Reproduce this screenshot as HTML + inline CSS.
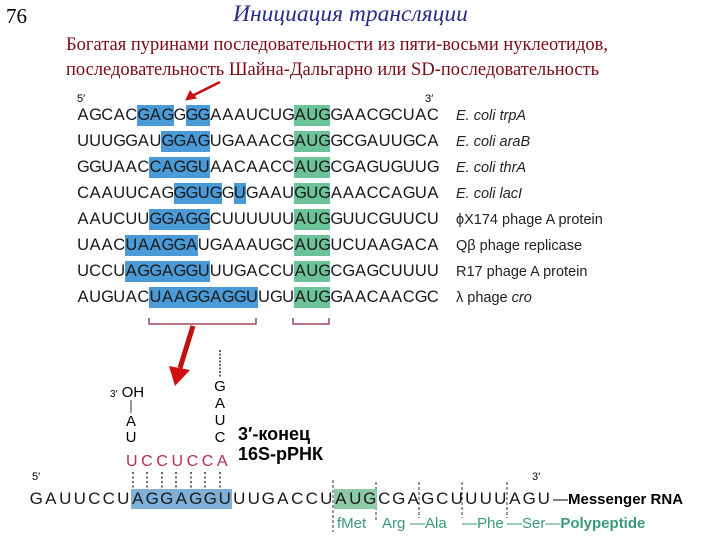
<!DOCTYPE html>
<html><head><meta charset="utf-8"><style>
body{margin:0;width:720px;height:540px;background:#fff;position:relative;overflow:hidden;font-family:"Liberation Sans",sans-serif}
.a{position:absolute;white-space:nowrap}
.r{position:absolute;left:77px;width:362px;height:21px;display:flex;font-size:16.5px;color:#1a1a1a;line-height:21px}
.r i{flex:1 1 0;min-width:0;text-align:center;font-style:normal;overflow:visible}
.b{background:#4a9ad8}
.g{background:#6cc39a}
.lb{position:absolute;left:456px;font-size:14.5px;color:#222}
.m{position:absolute;left:29px;top:489px;height:20px;display:flex;font-size:17px;line-height:20px;color:#1a1a1a}
.m i{width:14.5px;text-align:center;font-style:normal}
.mb{background:#7fb0d8}
.mg{background:#8fcaa8}
.p{position:absolute;top:515px;font-size:15px;color:#3a9a78}
</style></head><body>
<div class="a" style="left:6px;top:4px;font:21px 'Liberation Serif',serif">76</div>
<div class="a" style="left:233px;top:1px;font:italic 23.5px 'Liberation Serif',serif;color:#2b2b8c">Инициация трансляции</div>
<div class="a" style="left:66px;top:33px;font:18.5px 'Liberation Serif',serif;color:#7a0a14;line-height:25px">Богатая пуринами последовательности из пяти-восьми нуклеотидов,<br>последовательность Шайна-Дальгарно или SD-последовательность</div>

<div class="a" style="left:77px;top:93px;font-size:11px">5′</div>
<div class="a" style="left:425px;top:93px;font-size:11px">3′</div>

<div class="r" style="top:105px"><i>A</i><i>G</i><i>C</i><i>A</i><i>C</i><i class="b">G</i><i class="b">A</i><i class="b">G</i><i>G</i><i class="b">G</i><i class="b">G</i><i>A</i><i>A</i><i>A</i><i>U</i><i>C</i><i>U</i><i>G</i><i class="g">A</i><i class="g">U</i><i class="g">G</i><i>G</i><i>A</i><i>A</i><i>C</i><i>G</i><i>C</i><i>U</i><i>A</i><i>C</i></div>
<div class="r" style="top:131px"><i>U</i><i>U</i><i>U</i><i>G</i><i>G</i><i>A</i><i>U</i><i class="b">G</i><i class="b">G</i><i class="b">A</i><i class="b">G</i><i>U</i><i>G</i><i>A</i><i>A</i><i>A</i><i>C</i><i>G</i><i class="g">A</i><i class="g">U</i><i class="g">G</i><i>G</i><i>C</i><i>G</i><i>A</i><i>U</i><i>U</i><i>G</i><i>C</i><i>A</i></div>
<div class="r" style="top:157px"><i>G</i><i>G</i><i>U</i><i>A</i><i>A</i><i>C</i><i class="b">C</i><i class="b">A</i><i class="b">G</i><i class="b">G</i><i class="b">U</i><i>A</i><i>A</i><i>C</i><i>A</i><i>A</i><i>C</i><i>C</i><i class="g">A</i><i class="g">U</i><i class="g">G</i><i>C</i><i>G</i><i>A</i><i>G</i><i>U</i><i>G</i><i>U</i><i>U</i><i>G</i></div>
<div class="r" style="top:183px"><i>C</i><i>A</i><i>A</i><i>U</i><i>U</i><i>C</i><i>A</i><i>G</i><i class="b">G</i><i class="b">G</i><i class="b">U</i><i class="b">G</i><i>G</i><i class="b">U</i><i>G</i><i>A</i><i>A</i><i>U</i><i class="g">G</i><i class="g">U</i><i class="g">G</i><i>A</i><i>A</i><i>A</i><i>C</i><i>C</i><i>A</i><i>G</i><i>U</i><i>A</i></div>
<div class="r" style="top:209px"><i>A</i><i>A</i><i>U</i><i>C</i><i>U</i><i>U</i><i class="b">G</i><i class="b">G</i><i class="b">A</i><i class="b">G</i><i class="b">G</i><i>C</i><i>U</i><i>U</i><i>U</i><i>U</i><i>U</i><i>U</i><i class="g">A</i><i class="g">U</i><i class="g">G</i><i>G</i><i>U</i><i>U</i><i>C</i><i>G</i><i>U</i><i>U</i><i>C</i><i>U</i></div>
<div class="r" style="top:235px"><i>U</i><i>A</i><i>A</i><i>C</i><i class="b">U</i><i class="b">A</i><i class="b">A</i><i class="b">G</i><i class="b">G</i><i class="b">A</i><i>U</i><i>G</i><i>A</i><i>A</i><i>A</i><i>U</i><i>G</i><i>C</i><i class="g">A</i><i class="g">U</i><i class="g">G</i><i>U</i><i>C</i><i>U</i><i>A</i><i>A</i><i>G</i><i>A</i><i>C</i><i>A</i></div>
<div class="r" style="top:261px"><i>U</i><i>C</i><i>C</i><i>U</i><i class="b">A</i><i class="b">G</i><i class="b">G</i><i class="b">A</i><i class="b">G</i><i class="b">G</i><i class="b">U</i><i>U</i><i>U</i><i>G</i><i>A</i><i>C</i><i>C</i><i>U</i><i class="g">A</i><i class="g">U</i><i class="g">G</i><i>C</i><i>G</i><i>A</i><i>G</i><i>C</i><i>U</i><i>U</i><i>U</i><i>U</i></div>
<div class="r" style="top:287px"><i>A</i><i>U</i><i>G</i><i>U</i><i>A</i><i>C</i><i class="b">U</i><i class="b">A</i><i class="b">A</i><i class="b">G</i><i class="b">G</i><i class="b">A</i><i class="b">G</i><i class="b">G</i><i class="b">U</i><i>U</i><i>G</i><i>U</i><i class="g">A</i><i class="g">U</i><i class="g">G</i><i>G</i><i>A</i><i>A</i><i>C</i><i>A</i><i>A</i><i>C</i><i>G</i><i>C</i></div>

<div class="lb" style="top:108px;font-style:italic">E. coli trpA</div>
<div class="lb" style="top:134px;font-style:italic">E. coli araB</div>
<div class="lb" style="top:160px;font-style:italic">E. coli thrA</div>
<div class="lb" style="top:186px;font-style:italic">E. coli lacI</div>
<div class="lb" style="top:212px">ϕX174 phage A protein</div>
<div class="lb" style="top:238px">Qβ phage replicase</div>
<div class="lb" style="top:264px">R17 phage A protein</div>
<div class="lb" style="top:290px">λ phage <i>cro</i></div>

<svg class="a" style="left:0;top:0" width="720" height="540">
<g stroke="#a04858" stroke-width="1.5" fill="none">
<path d="M149,318 V324 H256 V318"/><path d="M293,318 V324 H329 V318"/>
</g>
<g stroke="#c01010" fill="#d01010">
<line x1="220" y1="82" x2="192" y2="96" stroke-width="2.5"/>
<polygon points="186,100 190,91 196,98"/>
<line x1="193" y1="326" x2="180" y2="368" stroke-width="5"/>
<polygon points="169,366 190,370 175,386" stroke="none"/>
</g>
<line x1="220" y1="350" x2="220" y2="378" stroke="#333" stroke-width="1.5" stroke-dasharray="2,1.5"/>
<line x1="131" y1="400" x2="131" y2="413" stroke="#333" stroke-width="1"/>
<g stroke="#333" stroke-width="1.5" stroke-dasharray="2,2.5">
<line x1="133" y1="472" x2="133" y2="488"/><line x1="147" y1="472" x2="147" y2="488"/><line x1="162" y1="472" x2="162" y2="488"/><line x1="176" y1="472" x2="176" y2="488"/><line x1="191" y1="472" x2="191" y2="488"/><line x1="205" y1="472" x2="205" y2="488"/><line x1="220" y1="472" x2="220" y2="488"/>
</g>
<g stroke="#333" stroke-width="1" stroke-dasharray="3,2">
<line x1="333" y1="480" x2="333" y2="532"/><line x1="376" y1="482" x2="376" y2="522"/><line x1="419" y1="482" x2="419" y2="518"/><line x1="462" y1="482" x2="462" y2="518"/><line x1="507" y1="482" x2="507" y2="518"/>
</g>
</svg>

<div class="a" style="left:110px;top:384px;font-size:15px"><span style="font-size:10px">3′</span> OH</div>
<div class="a" style="left:125px;top:414px;font-size:15px;line-height:16px;text-align:center;width:12px">A<br>U</div>
<div class="a" style="left:213px;top:378px;font-size:15px;line-height:17px;text-align:center;width:14px">G<br>A<br>U<br>C</div>
<div class="a" style="left:238px;top:424px;font-size:18px;font-weight:bold;line-height:20px">3′-конец<br>16S-рРНК</div>
<div class="a" style="left:126px;top:453px;font-size:16px;letter-spacing:3.6px;color:#b03050">UCCUCCA</div>

<div class="a" style="left:32px;top:471px;font-size:11px">5′</div>
<div class="a" style="left:532px;top:471px;font-size:11px">3′</div>
<div class="m"><i>G</i><i>A</i><i>U</i><i>U</i><i>C</i><i>C</i><i>U</i><i class="mb">A</i><i class="mb">G</i><i class="mb">G</i><i class="mb">A</i><i class="mb">G</i><i class="mb">G</i><i class="mb">U</i><i>U</i><i>U</i><i>G</i><i>A</i><i>C</i><i>C</i><i>U</i><i class="mg">A</i><i class="mg">U</i><i class="mg">G</i><i>C</i><i>G</i><i>A</i><i>G</i><i>C</i><i>U</i><i>U</i><i>U</i><i>U</i><i>A</i><i>G</i><i>U</i></div>
<div class="a" style="left:553px;top:490px;font-size:15px;line-height:20px">—<b>Messenger RNA</b></div>
<div class="p" style="left:337px">fMet</div>
<div class="p" style="left:382px">Arg</div>
<div class="p" style="left:410px">—Ala</div>
<div class="p" style="left:462px">—Phe</div>
<div class="p" style="left:507px">—Ser—<b>Polypeptide</b></div>
</body></html>
